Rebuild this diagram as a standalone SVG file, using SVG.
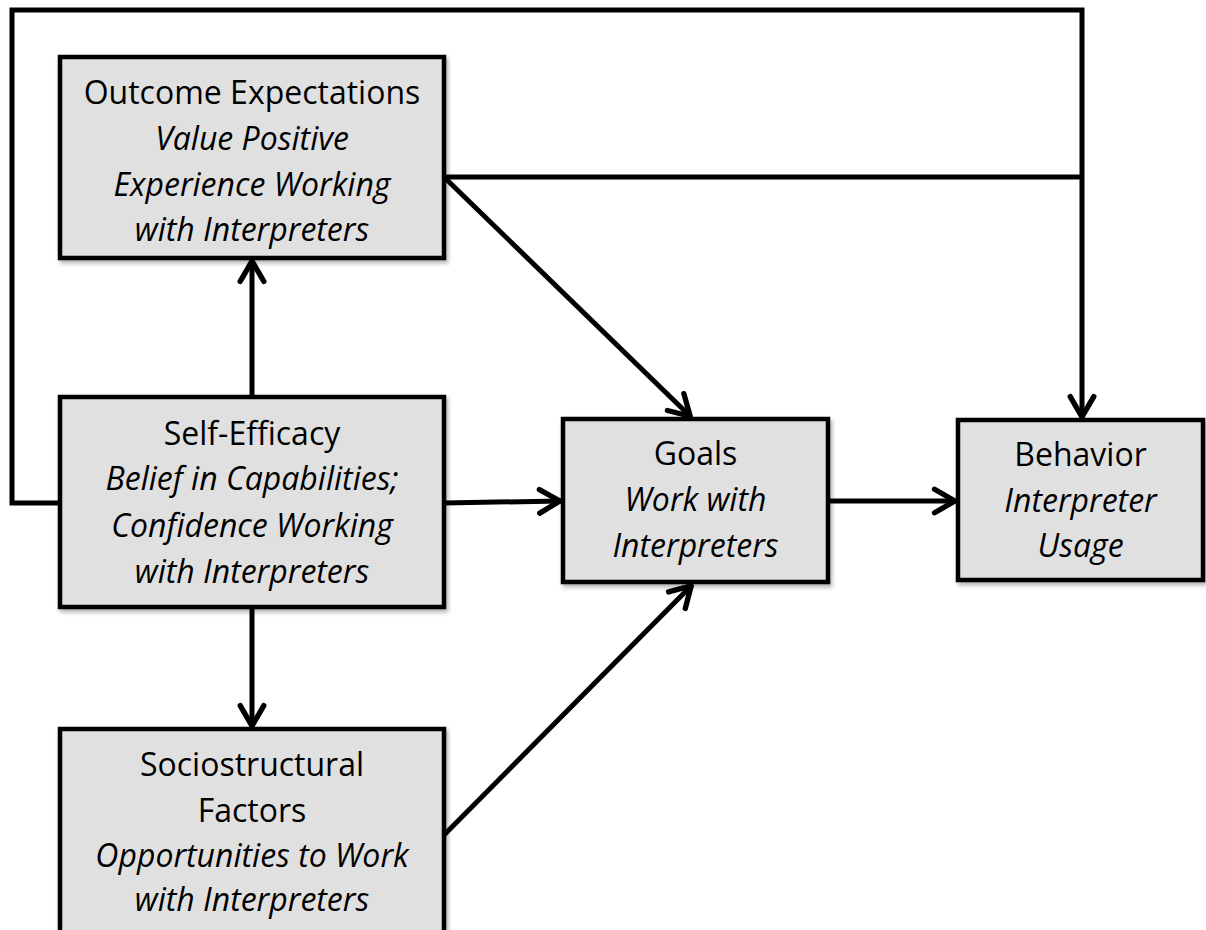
<svg xmlns="http://www.w3.org/2000/svg" width="1206" height="930" viewBox="0 0 1206 930">
<style>
.box{fill:#e0e0e0;stroke:#000;stroke-width:4.5;filter:url(#sh)}
.t{font-family:"Open Sans","Liberation Sans",sans-serif;font-size:32px;fill:#000;text-anchor:middle}
.i{font-style:italic}
.c{fill:none;stroke:#000;stroke-width:5;stroke-linejoin:miter}
</style>
<defs>
<filter id="sh" x="-10%" y="-10%" width="120%" height="130%">
<feDropShadow dx="2" dy="3" stdDeviation="2" flood-color="#000" flood-opacity="0.3"/>
</filter>
<marker id="ah" markerUnits="userSpaceOnUse" markerWidth="30" markerHeight="30" viewBox="-24 -14 28 28" refX="0" refY="0" orient="auto">
<path d="M-20,-11 L-1,0 L-20,11" fill="none" stroke="#000" stroke-width="5" stroke-linecap="round" stroke-linejoin="round"/>
</marker>
</defs>
<rect width="1206" height="930" fill="#fff"/>
<g id="connectors">
<path class="c" d="M60,503 H12 V10 H1082 V418" marker-end="url(#ah)"/>
<path class="c" d="M444,177 H1082"/>
<path class="c" d="M444,177 L691,417" marker-end="url(#ah)"/>
<path class="c" d="M444,835 L692,585" marker-end="url(#ah)"/>
<path class="c" d="M252,397 V260" marker-end="url(#ah)"/>
<path class="c" d="M252,607 V727" marker-end="url(#ah)"/>
<path class="c" d="M444,503 L561,501" marker-end="url(#ah)"/>
<path class="c" d="M828,501 H956" marker-end="url(#ah)"/>
</g>
<g id="outcome">
<rect class="box" x="60" y="57" width="384" height="201"/>
<text class="t" x="252" y="104">Outcome Expectations</text>
<text class="t i" x="252" y="150">Value Positive</text>
<text class="t i" x="252" y="196">Experience Working</text>
<text class="t i" x="252" y="241">with Interpreters</text>
</g>
<g id="selfefficacy">
<rect class="box" x="60" y="397" width="384" height="210"/>
<text class="t" x="252" y="445">Self-Efficacy</text>
<text class="t i" x="252" y="490">Belief in Capabilities;</text>
<text class="t i" x="252" y="537">Confidence Working</text>
<text class="t i" x="252" y="583">with Interpreters</text>
</g>
<g id="socio">
<rect class="box" x="60" y="729" width="384" height="215"/>
<text class="t" x="252" y="776">Sociostructural</text>
<text class="t" x="252" y="822">Factors</text>
<text class="t i" x="252" y="867">Opportunities to Work</text>
<text class="t i" x="252" y="911">with Interpreters</text>
</g>
<g id="goals">
<rect class="box" x="563" y="419" width="265" height="163"/>
<text class="t" x="695.5" y="465">Goals</text>
<text class="t i" x="695.5" y="511">Work with</text>
<text class="t i" x="695.5" y="557">Interpreters</text>
</g>
<g id="behavior">
<rect class="box" x="958" y="420" width="245" height="160"/>
<text class="t" x="1080.5" y="466">Behavior</text>
<text class="t i" x="1080.5" y="512">Interpreter</text>
<text class="t i" x="1080.5" y="557">Usage</text>
</g>
</svg>
